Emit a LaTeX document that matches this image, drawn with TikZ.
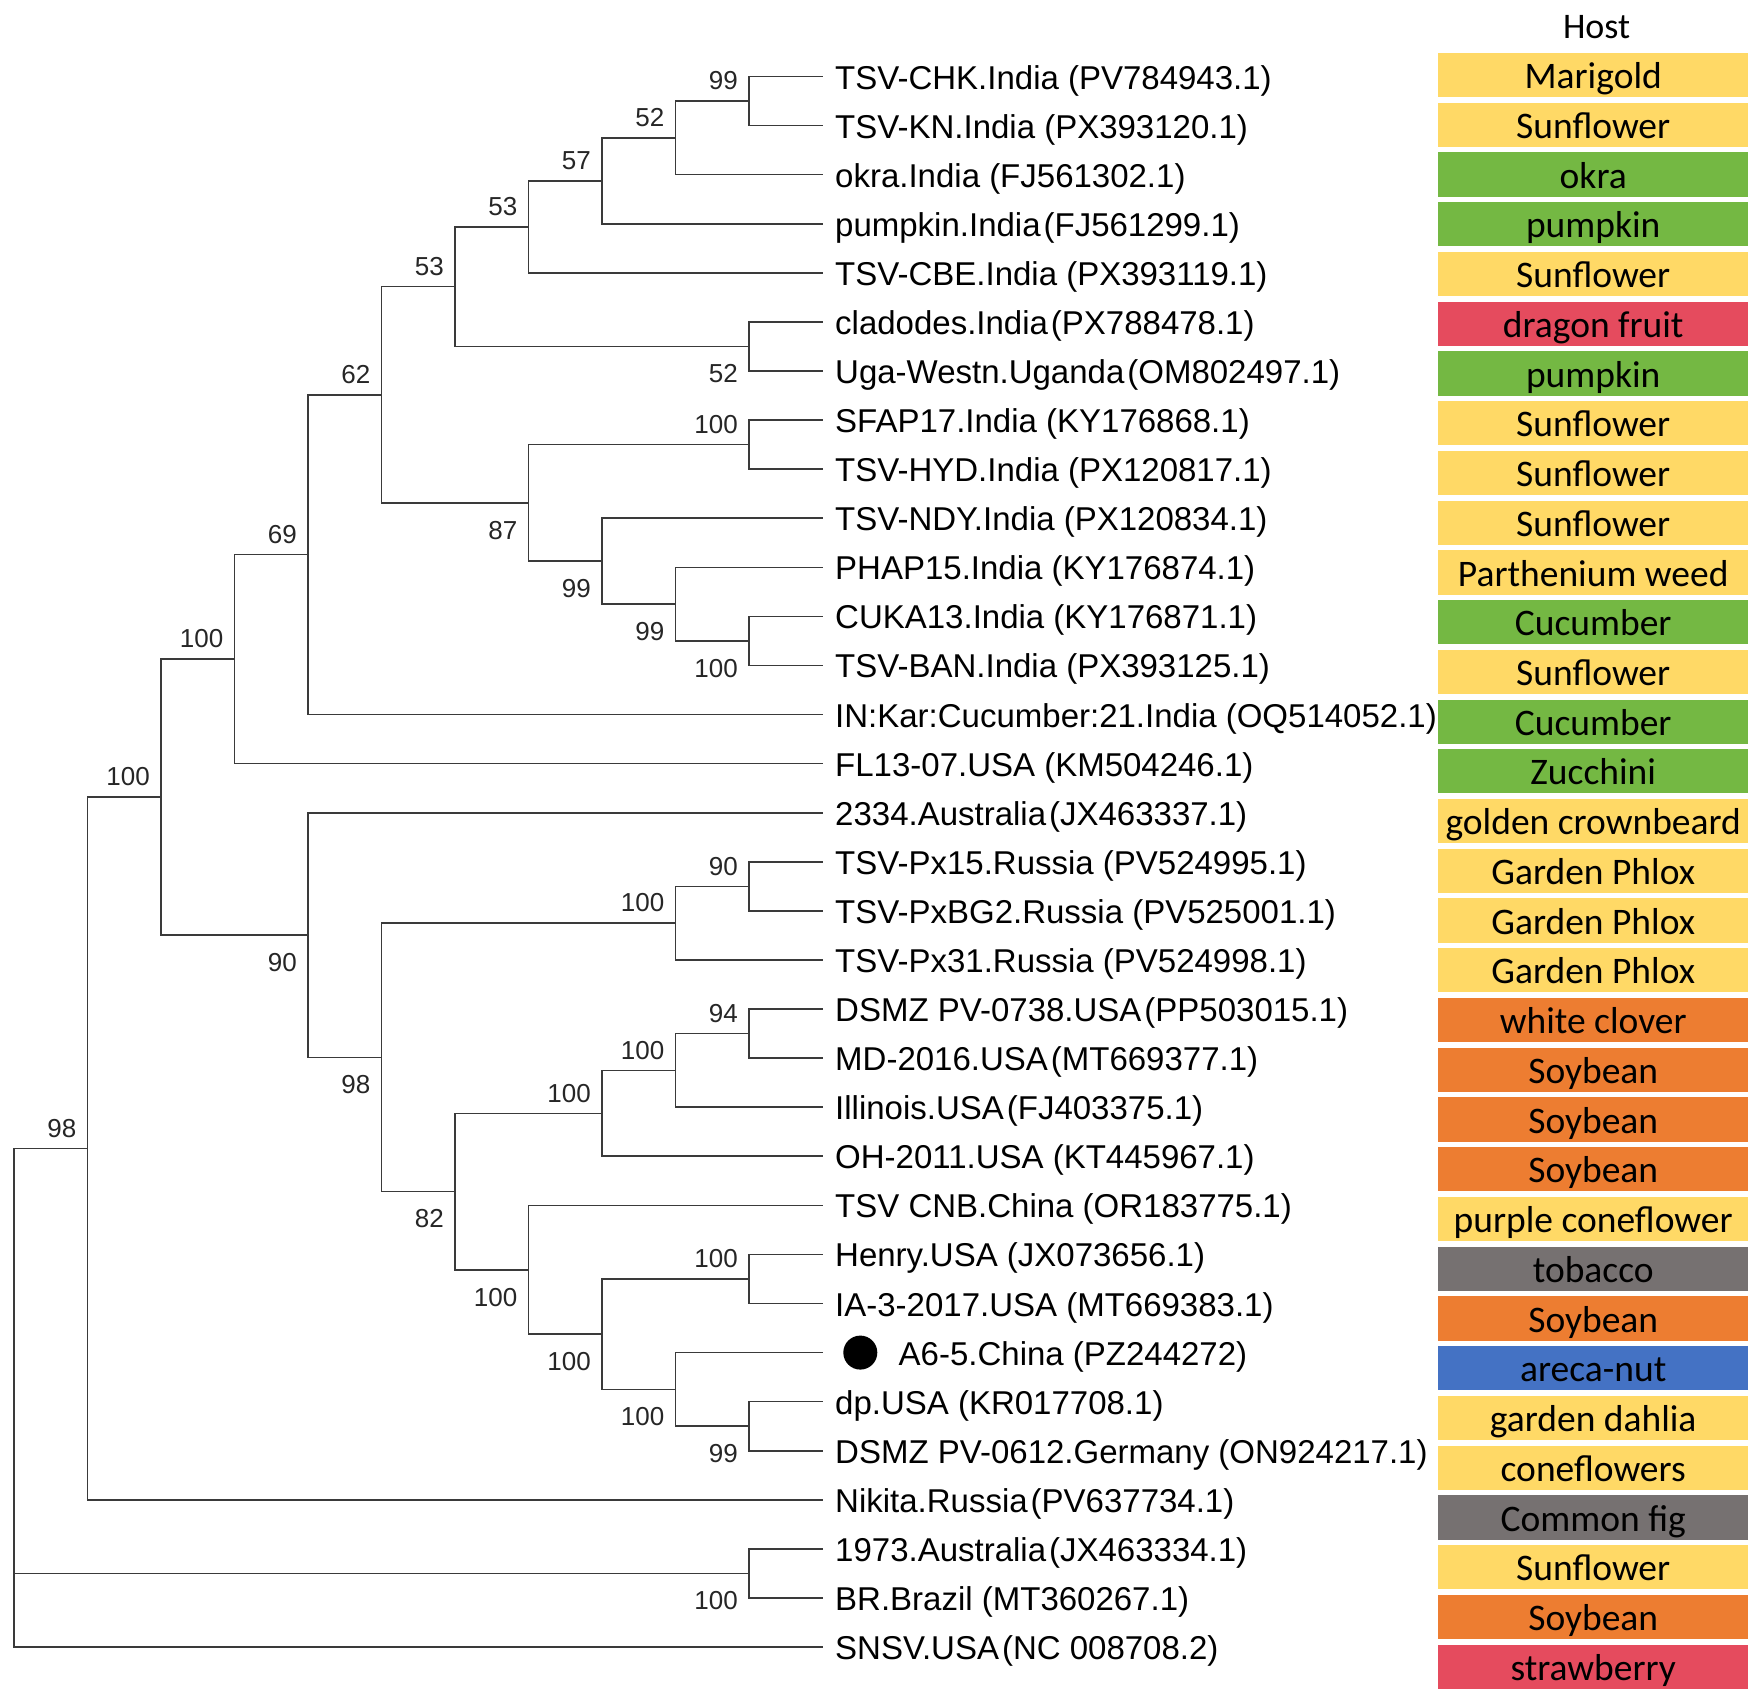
\documentclass[tikz,border=0pt]{standalone}
\usepackage{fontspec}
\setmainfont{Liberation Sans}
\newfontfamily\hostfont{Carlito}
\definecolor{cyellow}{HTML}{FFD966}
\definecolor{cgreen}{HTML}{74B843}
\definecolor{cred}{HTML}{E54B5E}
\definecolor{corange}{HTML}{ED7D31}
\definecolor{cgray}{HTML}{767171}
\definecolor{cblue}{HTML}{4472C4}
\definecolor{branch}{HTML}{3A3A3A}
\newcommand{\tnode}[3]{\coordinate (#1) at ({14+73.5*#2},{-76.5-49.08*#3});}
\newcommand{\leafnode}[3]{\node[leaf] (#1) at (822.5,{-76.5-49.08*#2}) {#3};}
\newcommand{\hostbox}[4]{\node[hostcell, fill=#3] (#1) at (1593.2,{-75-49.74*#2}) {#4};}
\begin{document}
\begin{tikzpicture}[x=1pt,y=1pt,
  tree/.style={draw=branch, line width=1.6pt, line join=miter},
  leaf/.style={anchor=west, inner xsep=12.5pt, inner ysep=0pt, text height=25pt, text depth=0pt, font=\fontsize{33}{39}\selectfont},
  bs/.style={font=\fontsize{26}{30}\selectfont, inner sep=0pt, text height=18.6pt, text depth=0pt, anchor=east, text=black!85},
  bsa/.style={bs, xshift=-11pt, yshift=20.5pt},
  bsb/.style={bs, xshift=-11pt, yshift=-27pt},
  hostcell/.style={minimum width=309.5pt, minimum height=44.2pt, inner sep=0pt, text height=27.2pt, text depth=0pt, font=\hostfont\fontsize{37.5}{44}\selectfont},
  dotmark/.style={circle, fill=black, minimum size=34pt, inner sep=0pt}]
\fill[white] (0,0) rectangle (1761,-1702);
\useasboundingbox (0,0) rectangle (1761,-1702);

% leaves
\leafnode{L0}{0}{TSV-CHK.India (PV784943.1)}
\leafnode{L1}{1}{TSV-KN.India (PX393120.1)}
\leafnode{L2}{2}{okra.India (FJ561302.1)}
\leafnode{L3}{3}{pumpkin.India\hspace{3pt}(FJ561299.1)}
\leafnode{L4}{4}{TSV-CBE.India (PX393119.1)}
\leafnode{L5}{5}{cladodes.India\hspace{3pt}(PX788478.1)}
\leafnode{L6}{6}{Uga-Westn.Uganda\hspace{3pt}(OM802497.1)}
\leafnode{L7}{7}{SFAP17.India (KY176868.1)}
\leafnode{L8}{8}{TSV-HYD.India (PX120817.1)}
\leafnode{L9}{9}{TSV-NDY.India (PX120834.1)}
\leafnode{L10}{10}{PHAP15.India (KY176874.1)}
\leafnode{L11}{11}{CUKA13.India (KY176871.1)}
\leafnode{L12}{12}{TSV-BAN.India (PX393125.1)}
\leafnode{L13}{13}{IN:Kar:Cucumber:21.India (OQ514052.1)}
\leafnode{L14}{14}{FL13-07.USA (KM504246.1)}
\leafnode{L15}{15}{2334.Australia\hspace{3pt}(JX463337.1)}
\leafnode{L16}{16}{TSV-Px15.Russia (PV524995.1)}
\leafnode{L17}{17}{TSV-PxBG2.Russia (PV525001.1)}
\leafnode{L18}{18}{TSV-Px31.Russia (PV524998.1)}
\leafnode{L19}{19}{DSMZ PV-0738.USA\hspace{3pt}(PP503015.1)}
\leafnode{L20}{20}{MD-2016.USA\hspace{3pt}(MT669377.1)}
\leafnode{L21}{21}{Illinois.USA\hspace{3pt}(FJ403375.1)}
\leafnode{L22}{22}{OH-2011.USA (KT445967.1)}
\leafnode{L23}{23}{TSV CNB.China (OR183775.1)}
\leafnode{L24}{24}{Henry.USA (JX073656.1)}
\leafnode{L25}{25}{IA-3-2017.USA (MT669383.1)}
\coordinate (T26) at (822.5,{-76.5-49.08*26});
\node[dotmark] (dot) at (860.3,{-76.5-49.08*26}) {};
\node[leaf] (L26) at (886,{-76.5-49.08*26}) {A6-5.China (PZ244272)};
\leafnode{L27}{27}{dp.USA (KR017708.1)}
\leafnode{L28}{28}{DSMZ PV-0612.Germany (ON924217.1)}
\leafnode{L29}{29}{Nikita.Russia\hspace{3pt}(PV637734.1)}
\leafnode{L30}{30}{1973.Australia\hspace{3pt}(JX463334.1)}
\leafnode{L31}{31}{BR.Brazil (MT360267.1)}
\leafnode{L32}{32}{SNSV.USA\hspace{3pt}(NC 008708.2)}

% internal nodes
\tnode{N99a}{10}{0.5}
\tnode{N52}{9}{1.25}
\tnode{N57}{8}{2.125}
\tnode{N53b}{7}{3.0625}
\tnode{N52c}{10}{5.5}
\tnode{N53a}{6}{4.28125}
\tnode{N100c}{10}{7.5}
\tnode{N100d}{10}{11.5}
\tnode{N99c}{9}{10.75}
\tnode{N99b}{8}{9.875}
\tnode{N87}{7}{8.6875}
\tnode{N62}{5}{6.484375}
\tnode{N69}{4}{9.7421875}
\tnode{N100b}{3}{11.87109375}
\tnode{N90b}{10}{16.5}
\tnode{N100e}{9}{17.25}
\tnode{N94}{10}{19.5}
\tnode{N100h}{9}{20.25}
\tnode{N100f}{8}{21.125}
\tnode{N100j}{10}{24.5}
\tnode{N99d}{10}{27.5}
\tnode{N100k}{9}{26.75}
\tnode{N100i}{8}{25.625}
\tnode{N100g}{7}{24.3125}
\tnode{N82}{6}{22.71875}
\tnode{N98b}{5}{19.984375}
\tnode{N90}{4}{17.4921875}
\tnode{N100a}{2}{14.681640625}
\tnode{N98}{1}{21.8408203125}
\tnode{Nbr}{10}{30.5}
\tnode{R}{0}{26.92}

% branches
\draw[tree] (L0.west) -| (N99a) |- (L1.west);
\draw[tree] (N99a) -| (N52) |- (L2.west);
\draw[tree] (N52) -| (N57) |- (L3.west);
\draw[tree] (N57) -| (N53b) |- (L4.west);
\draw[tree] (L5.west) -| (N52c) |- (L6.west);
\draw[tree] (N53b) -| (N53a) |- (N52c);
\draw[tree] (L7.west) -| (N100c) |- (L8.west);
\draw[tree] (L11.west) -| (N100d) |- (L12.west);
\draw[tree] (L10.west) -| (N99c) |- (N100d);
\draw[tree] (L9.west) -| (N99b) |- (N99c);
\draw[tree] (N100c) -| (N87) |- (N99b);
\draw[tree] (N53a) -| (N62) |- (N87);
\draw[tree] (N62) -| (N69) |- (L13.west);
\draw[tree] (N69) -| (N100b) |- (L14.west);
\draw[tree] (L16.west) -| (N90b) |- (L17.west);
\draw[tree] (N90b) -| (N100e) |- (L18.west);
\draw[tree] (L19.west) -| (N94) |- (L20.west);
\draw[tree] (N94) -| (N100h) |- (L21.west);
\draw[tree] (N100h) -| (N100f) |- (L22.west);
\draw[tree] (L24.west) -| (N100j) |- (L25.west);
\draw[tree] (L27.west) -| (N99d) |- (L28.west);
\draw[tree] (T26) -| (N100k) |- (N99d);
\draw[tree] (N100j) -| (N100i) |- (N100k);
\draw[tree] (L23.west) -| (N100g) |- (N100i);
\draw[tree] (N100f) -| (N82) |- (N100g);
\draw[tree] (N100e) -| (N98b) |- (N82);
\draw[tree] (L15.west) -| (N90) |- (N98b);
\draw[tree] (N100b) -| (N100a) |- (N90);
\draw[tree] (N100a) -| (N98) |- (L29.west);
\draw[tree] (L30.west) -| (Nbr) |- (L31.west);
\draw[tree] (N98) -| (R) |- (L32.west);
\draw[tree] (R) |- (Nbr);

% bootstrap values
\node[bsa] (b1) at (N99a) {99};
\node[bsa] (b2) at (N52) {52};
\node[bsa] (b3) at (N57) {57};
\node[bsa] (b4) at (N53b) {53};
\node[bsa] (b5) at (N53a) {53};
\node[bsb] (b6) at (N52c) {52};
\node[bsa] (b7) at (N62) {62};
\node[bsa] (b8) at (N100c) {100};
\node[bsb] (b9) at (N87) {87};
\node[bsb] (b10) at (N99b) {99};
\node[bsb] (b11) at (N99c) {99};
\node[bsb] (b12) at (N100d) {100};
\node[bsa] (b13) at (N69) {69};
\node[bsa] (b14) at (N100b) {100};
\node[bsa] (b15) at (N100a) {100};
\node[bsa] (b16) at (N98) {98};
\node[bsb] (b17) at (N90) {90};
\node[bsa] (b18) at (N90b) {90};
\node[bsa] (b19) at (N100e) {100};
\node[bsb] (b20) at (N98b) {98};
\node[bsa] (b21) at (N94) {94};
\node[bsa] (b22) at (N100h) {100};
\node[bsa] (b23) at (N100f) {100};
\node[bsb] (b24) at (N82) {82};
\node[bsb] (b25) at (N100g) {100};
\node[bsa] (b26) at (N100j) {100};
\node[bsb] (b27) at (N100i) {100};
\node[bsb] (b28) at (N100k) {100};
\node[bsb] (b29) at (N99d) {99};
\node[bsb] (b30) at (Nbr) {100};

% host column
\node[font=\hostfont\fontsize{36}{43}\selectfont, inner sep=0pt] (host) at (1596.6,-26.8) {Host};
\hostbox{H0}{0}{cyellow}{Marigold}
\hostbox{H1}{1}{cyellow}{Sunflower}
\hostbox{H2}{2}{cgreen}{okra}
\hostbox{H3}{3}{cgreen}{pumpkin}
\hostbox{H4}{4}{cyellow}{Sunflower}
\hostbox{H5}{5}{cred}{dragon fruit}
\hostbox{H6}{6}{cgreen}{pumpkin}
\hostbox{H7}{7}{cyellow}{Sunflower}
\hostbox{H8}{8}{cyellow}{Sunflower}
\hostbox{H9}{9}{cyellow}{Sunflower}
\hostbox{H10}{10}{cyellow}{Parthenium weed}
\hostbox{H11}{11}{cgreen}{Cucumber}
\hostbox{H12}{12}{cyellow}{Sunflower}
\hostbox{H13}{13}{cgreen}{Cucumber}
\hostbox{H14}{14}{cgreen}{Zucchini}
\hostbox{H15}{15}{cyellow}{golden crownbeard}
\hostbox{H16}{16}{cyellow}{Garden Phlox}
\hostbox{H17}{17}{cyellow}{Garden Phlox}
\hostbox{H18}{18}{cyellow}{Garden Phlox}
\hostbox{H19}{19}{corange}{white clover}
\hostbox{H20}{20}{corange}{Soybean}
\hostbox{H21}{21}{corange}{Soybean}
\hostbox{H22}{22}{corange}{Soybean}
\hostbox{H23}{23}{cyellow}{purple coneflower}
\hostbox{H24}{24}{cgray}{tobacco}
\hostbox{H25}{25}{corange}{Soybean}
\hostbox{H26}{26}{cblue}{areca-nut}
\hostbox{H27}{27}{cyellow}{garden dahlia}
\hostbox{H28}{28}{cyellow}{coneflowers}
\hostbox{H29}{29}{cgray}{Common fig}
\hostbox{H30}{30}{cyellow}{Sunflower}
\hostbox{H31}{31}{corange}{Soybean}
\hostbox{H32}{32}{cred}{strawberry}
\end{tikzpicture}
\end{document}
